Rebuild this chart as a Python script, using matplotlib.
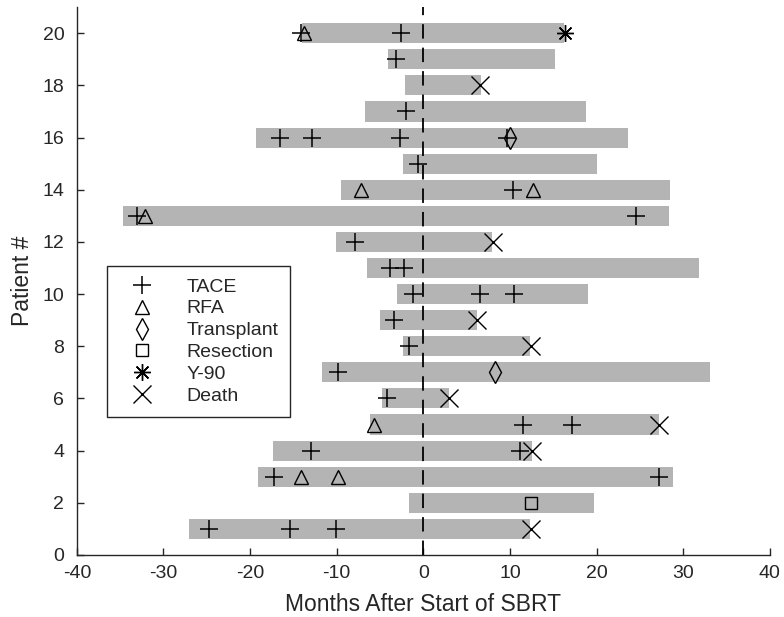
import matplotlib
matplotlib.use('Agg')
import matplotlib.pyplot as plt

plt.rcParams['font.family'] = ['Liberation Sans', 'DejaVu Sans']
plt.rcParams['axes.unicode_minus'] = False

patients = list(range(1, 21))
bar_start = [-27.0, -1.7, -19.1, -17.3, -6.2, -4.8, -11.7, -2.3, -5.0, -3.0,
             -6.5, -10.1, -34.7, -9.45, -2.3, -19.3, -6.7, -2.1, -4.1, -14.0]
bar_end = [12.35, 19.75, 28.85, 12.5, 27.2, 3.0, 33.1, 12.35, 6.2, 19.0,
           31.8, 7.9, 28.3, 28.5, 20.0, 23.65, 18.8, 6.6, 15.15, 16.2]

tace_pt = [1, 1, 1, 3, 3, 4, 4, 5, 5, 6, 7, 8, 9, 10, 10, 10, 11, 11, 12,
           13, 13, 14, 15, 16, 16, 16, 16, 17, 19, 20, 20]
tace_mo = [-24.7, -15.35, -10.07, -17.25, 27.2, -13.0, 11.1, 11.5, 17.1, -4.25,
           -9.8, -1.6, -3.35, -1.15, 6.5, 10.5, -3.8, -2.2, -7.9,
           -33.1, 24.5, 10.4, -0.65, -16.5, -12.9, -2.7, 9.6, -2.0, -3.2, -14.15, -2.6]

rfa_pt = [3, 3, 5, 13, 14, 14, 20]
rfa_mo = [-14.1, -9.8, -5.7, -32.1, -7.2, 12.65, -13.8]

transplant_pt = [7, 16]
transplant_mo = [8.3, 10.0]

resection_pt = [2]
resection_mo = [12.4]

y90_pt = [20]
y90_mo = [16.3]

death_pt = [1, 4, 5, 6, 8, 9, 12, 18]
death_mo = [12.4, 12.55, 27.2, 3.0, 12.45, 6.2, 8.0, 6.5]

fig = plt.figure(figsize=(7.84, 6.17), dpi=100)
ax = fig.add_axes([0.098, 0.1005, 0.884, 0.888])

widths = [e - s for s, e in zip(bar_start, bar_end)]
ax.barh(patients, widths, left=bar_start, height=0.77, color='#b4b4b4', zorder=1)
ax.axvline(0, color='black', linestyle=(0, (8, 5)), linewidth=1.3, zorder=2)

mk = dict(linestyle='none', color='black', markerfacecolor='none', zorder=3)
ax.plot(tace_mo, tace_pt, marker='+', markersize=13, markeredgewidth=1.1, label='TACE', **mk)
ax.plot(rfa_mo, rfa_pt, marker='^', markersize=10, markeredgewidth=1.0, label='RFA', **mk)
ax.plot(transplant_mo, transplant_pt, marker='d', markersize=11, markeredgewidth=1.0, label='Transplant', **mk)
ax.plot(resection_mo, resection_pt, marker='s', markersize=8, markeredgewidth=1.0, label='Resection', **mk)
ax.plot(y90_mo, y90_pt, marker=(8, 2, 0), markersize=12, markeredgewidth=1.0, label='Y-90', **mk)
ax.plot(death_mo, death_pt, marker='x', markersize=13, markeredgewidth=1.0, label='Death', **mk)

ax.set_xlim(-40, 40)
ax.set_ylim(0, 21)
ax.set_xticks(range(-40, 41, 10))
ax.set_yticks(range(0, 21, 2))
ax.spines['top'].set_visible(False)
ax.spines['right'].set_visible(False)
for s in ['left', 'bottom']:
    ax.spines[s].set_linewidth(1.0)
    ax.spines[s].set_color('#262626')
ax.tick_params(direction='in', length=5, width=1.0, colors='#262626', labelsize=14)
ax.tick_params(axis='y', pad=9)
ax.tick_params(axis='x', pad=7)
ax.set_xlabel('Months After Start of SBRT', fontsize=16.5, color='#262626', labelpad=8)
ax.set_ylabel('Patient #', fontsize=16.5, color='#262626', labelpad=6)

leg = ax.legend(loc='upper left', bbox_to_anchor=(0.043, 0.527), fontsize=14,
                frameon=True, fancybox=False, edgecolor='#262626', framealpha=1,
                handlelength=2.4, handletextpad=1.1, labelspacing=0.22, borderpad=0.6,
                borderaxespad=0)
leg.get_frame().set_linewidth(1.0)
for t in leg.get_texts():
    t.set_color('#262626')

fig.savefig('out.png', dpi=100)
